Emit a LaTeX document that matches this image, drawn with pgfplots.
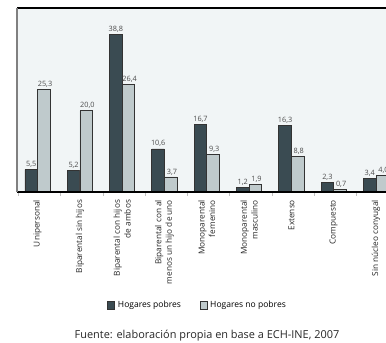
\documentclass[border=0pt]{standalone}
\usepackage{fontspec}
\setmainfont{Open Sans}
\usepackage{pgfplots}
\usepackage{pgfplotstable}
\pgfplotsset{compat=1.18}
\definecolor{darkbar}{HTML}{3A4B52}
\definecolor{lightbar}{HTML}{BFCACC}
\definecolor{bgc}{HTML}{F1F5F6}
\pgfplotstableread{
x pobres nopobres
0 5.5 25.3
1 5.2 20.0
2 38.8 26.4
3 10.6 3.7
4 16.7 9.3
5 1.2 1.9
6 16.3 8.8
7 2.3 0.7
8 3.4 4.0
}\datatable
\begin{document}
\begin{tikzpicture}
\begin{axis}[
  at={(12.75pt,113.25pt)}, anchor=south west,
  scale only axis, width=285.75pt, height=138pt,
  xmin=-0.487, xmax=8.52, ymin=0, ymax=45.3,
  clip=false,
  axis background/.style={fill=bgc},
  axis line style={draw=none},
  ytick=\empty,
  xtick={0,...,8},
  xtick pos=bottom,
  major tick length=0pt,
  xticklabels={Unipersonal,Biparental sin hijos,{Biparental con hijos\\de ambos},{Biparental con al\\menos un hijo de uno},{Monoparental\\femenino},{Monoparental\\masculino},Extenso,Compuesto,Sin núcleo conyugal},
  xticklabel style={rotate=90, anchor=east, align=right, font=\fontsize{6.2}{8}\selectfont, text=black!85},
  xticklabel shift=2.5pt,
  extra x ticks={-0.456,0.544,1.544,2.544,3.544,4.544,5.544,6.544,7.544,8.544},
  extra x tick labels={},
  extra x tick style={major tick length=3pt, tick align=outside, tick style={draw=gray!50, line width=0.6pt}},
  /pgf/number format/assume math mode=true,
  /pgf/number format/use comma,
  /pgf/number format/fixed,
  /pgf/number format/fixed zerofill,
  /pgf/number format/precision=1,
  legend columns=2,
  legend style={at={(0.475,-0.614)}, anchor=center, draw=none, fill=none, font=\fontsize{6.4}{9}\selectfont,
    /tikz/every even column/.append style={column sep=12pt}},
  legend image code/.code={\draw[#1] (0pt,-3pt) rectangle (5.3pt,3pt);},
]
\addplot[ybar, bar width=9.45pt, bar shift=-4.73pt, fill=darkbar, draw=black!80, line width=0.6pt]
  table[x=x, y=pobres] {\datatable};
\addplot[ybar, bar width=9.45pt, bar shift=4.73pt, fill=lightbar, draw=black!80, line width=0.6pt]
  table[x=x, y=nopobres] {\datatable};
\legend{Hogares pobres, Hogares no pobres}
\addplot[draw=none, mark=none, forget plot,
  nodes near coords, nodes near coords style={anchor=south, font=\fontsize{5.5}{7}\selectfont, text=black!70, inner sep=1.3pt}]
  table[x expr=\thisrow{x}-0.149, y=pobres] {\datatable};
\addplot[draw=none, mark=none, forget plot,
  nodes near coords, nodes near coords style={anchor=south, font=\fontsize{5.5}{7}\selectfont, text=black!70, inner sep=1.3pt}]
  table[x expr=\thisrow{x}+0.175, y=nopobres] {\datatable};
\draw[black, line width=0.8pt] (rel axis cs:0,1) -- (rel axis cs:1,1);
\draw[black, line width=0.8pt] (rel axis cs:0,0) -- (rel axis cs:1,0);
\draw[gray, line width=0.8pt] (rel axis cs:0,0) -- (rel axis cs:0,1);
\end{axis}
\node[font=\fontsize{8.2}{10}\selectfont, text=black!85] at (155.25pt,5.25pt) {Fuente: elaboración propia en base a ECH-INE, 2007};
\pgfresetboundingbox
\useasboundingbox (0,0) rectangle (289.5pt,257.25pt);
\end{tikzpicture}
\end{document}
